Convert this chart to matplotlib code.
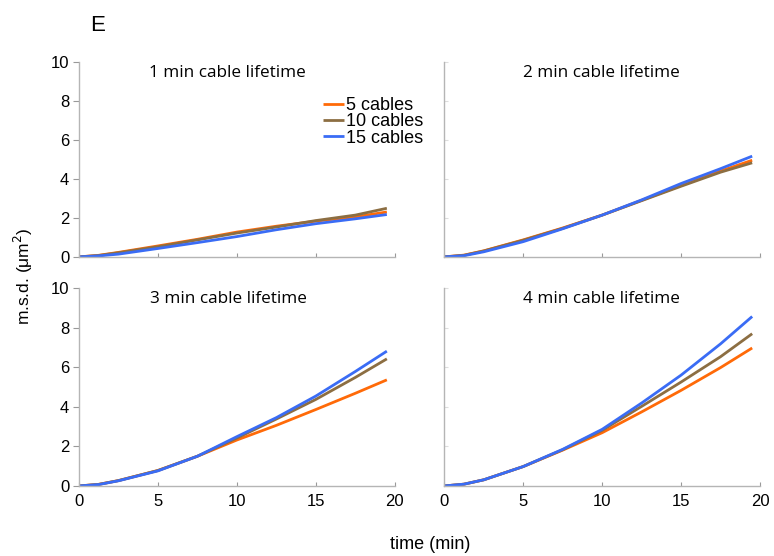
import numpy as np
import matplotlib
matplotlib.use("Agg")
import matplotlib.pyplot as plt

# time points (min)
t = [0, 1.25, 2.5, 5, 7.5, 10, 12.5, 15, 17.5, 19.5]

# m.s.d. (um^2) per panel, one list per cable number
msd_1min_5 = [0, 0.08, 0.23, 0.56, 0.90, 1.27, 1.57, 1.83, 2.05, 2.30]
msd_1min_10 = [0, 0.07, 0.21, 0.52, 0.87, 1.22, 1.53, 1.86, 2.14, 2.49]
msd_1min_15 = [0, 0.05, 0.14, 0.43, 0.73, 1.04, 1.39, 1.70, 1.95, 2.17]

msd_2min_5 = [0, 0.09, 0.31, 0.87, 1.48, 2.14, 2.90, 3.66, 4.40, 4.95]
msd_2min_10 = [0, 0.08, 0.30, 0.85, 1.46, 2.14, 2.88, 3.62, 4.34, 4.82]
msd_2min_15 = [0, 0.06, 0.26, 0.78, 1.44, 2.14, 2.92, 3.76, 4.52, 5.16]

msd_3min_5 = [0, 0.08, 0.27, 0.78, 1.50, 2.32, 3.06, 3.86, 4.68, 5.36]
msd_3min_10 = [0, 0.08, 0.27, 0.78, 1.50, 2.42, 3.38, 4.37, 5.48, 6.42]
msd_3min_15 = [0, 0.07, 0.26, 0.76, 1.50, 2.49, 3.45, 4.54, 5.78, 6.81]

msd_4min_5 = [0, 0.09, 0.31, 0.98, 1.81, 2.69, 3.74, 4.83, 5.98, 6.97]
msd_4min_10 = [0, 0.09, 0.31, 0.98, 1.83, 2.81, 4.02, 5.25, 6.53, 7.69]
msd_4min_15 = [0, 0.09, 0.31, 0.98, 1.85, 2.86, 4.19, 5.60, 7.18, 8.56]

titles = ["1 min cable lifetime", "2 min cable lifetime",
          "3 min cable lifetime", "4 min cable lifetime"]
series_labels = ["5 cables", "10 cables", "15 cables"]
colors = ["#ff6a08", "#8c6e42", "#3a6cf5"]

panels = [
    [msd_1min_5, msd_1min_10, msd_1min_15],
    [msd_2min_5, msd_2min_10, msd_2min_15],
    [msd_3min_5, msd_3min_10, msd_3min_15],
    [msd_4min_5, msd_4min_10, msd_4min_15],
]

fig = plt.figure(figsize=(7.74, 5.56), dpi=100)
plt.rcParams['font.family'] = ['Liberation Sans', 'DejaVu Sans']

# axes boxes in figure fractions [left, bottom, width, height]
boxes = [
    [0.102, 0.538, 0.408, 0.351],
    [0.574, 0.538, 0.408, 0.351],
    [0.102, 0.126, 0.408, 0.356],
    [0.574, 0.126, 0.408, 0.356],
]
title_x = [0.47, 0.497, 0.472, 0.497]

for i in range(4):
    ax = fig.add_axes(boxes[i])
    for j in range(3):
        ax.plot(t, panels[i][j], color=colors[j], lw=2, label=series_labels[j],
                solid_capstyle='butt')
    ax.set_xlim(0, 20)
    ax.set_ylim(0, 10)
    ax.set_xticks([0, 5, 10, 15, 20])
    ax.set_yticks([0, 2, 4, 6, 8, 10])
    for s in ["top", "right"]:
        ax.spines[s].set_visible(False)
    for s in ["left", "bottom"]:
        ax.spines[s].set_color("#b5b5b5")
        ax.spines[s].set_linewidth(1)
    ax.tick_params(axis='x', direction='in', length=3, color="#999999",
                   labelsize=12, pad=6)
    ax.tick_params(axis='y', length=4, color="#999999", labelsize=12, pad=3)
    if i in (0, 1):
        ax.tick_params(axis='x', labelbottom=False)
    if i in (1, 3):
        ax.tick_params(axis='y', direction='in', labelleft=False, length=3,
                       color="#dddddd")
    ax.text(title_x[i], 0.985, titles[i], transform=ax.transAxes, ha='center',
            va='top', fontsize=12.3, family=['Open Sans', 'DejaVu Sans'])
    if i == 0:
        ax.legend(loc='upper left', bbox_to_anchor=(0.772, 0.82), frameon=False,
                  fontsize=13, handlelength=1.17, handletextpad=0.1,
                  labelspacing=-0.03, borderpad=0, borderaxespad=0)

fig.text(0.117, 0.955, "E", fontsize=16, ha='left', va='center')
fig.text(0.030, 0.504, "m.s.d. (\u03bcm$^2$)", rotation=90, ha='center',
         va='center', fontsize=12.5)
fig.text(0.556, 0.020, "time (min)", ha='center', va='center', fontsize=13)

fig.savefig("out.png", dpi=100)
